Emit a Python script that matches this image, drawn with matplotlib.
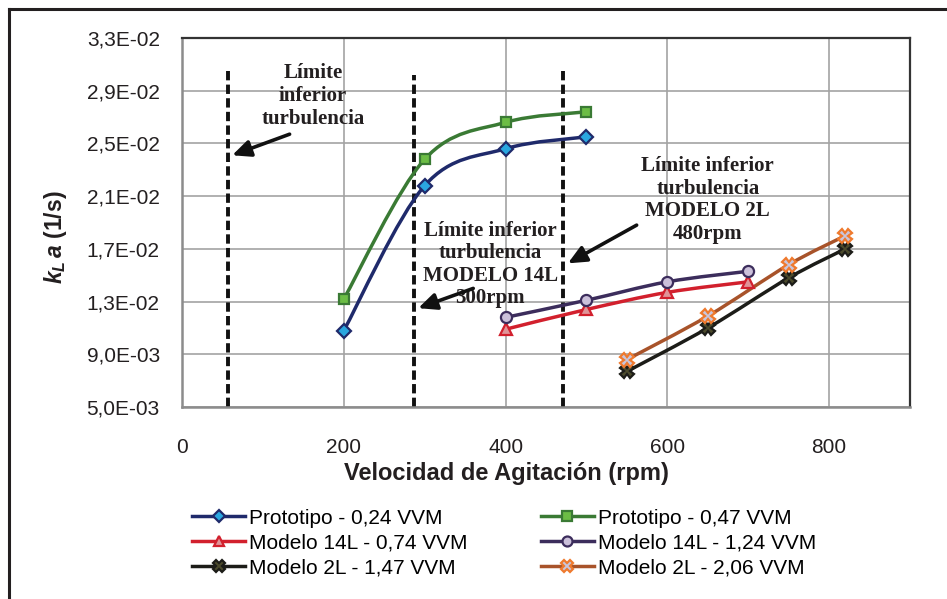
import matplotlib
matplotlib.use("Agg")
import matplotlib.pyplot as plt
import numpy as np
from matplotlib.path import Path
from matplotlib.patches import PathPatch
from matplotlib.lines import Line2D
from matplotlib.ticker import FuncFormatter

plt.rcParams['font.family'] = ['Liberation Sans', 'DejaVu Sans']
plt.rcParams['mathtext.fontset'] = 'custom'
plt.rcParams['mathtext.it'] = 'Liberation Sans:italic:bold'
plt.rcParams['mathtext.rm'] = 'Liberation Sans:bold'

# data
proto_x = [200, 300, 400, 500]
proto_024 = [0.0108, 0.0218, 0.0246, 0.0255]
proto_047 = [0.0132, 0.0238, 0.0266, 0.0274]

m14_x = [400, 500, 600, 700]
m14_074 = [0.0109, 0.0124, 0.0137, 0.0145]
m14_124 = [0.0118, 0.0131, 0.0145, 0.0153]

m2_x = [550, 650, 750, 820]
m2_147 = [0.0077, 0.0110, 0.0148, 0.0170]
m2_206 = [0.0086, 0.0119, 0.0158, 0.0180]

labels = ["Prototipo - 0,24 VVM", "Prototipo - 0,47 VVM",
          "Modelo 14L - 0,74 VVM", "Modelo 14L - 1,24 VVM",
          "Modelo 2L - 1,47 VVM", "Modelo 2L - 2,06 VVM"]

limit_x = [57, 287, 471]
limit_top = [0.0308, 0.0302, 0.0308]

y_ticks = [0.005, 0.009, 0.013, 0.017, 0.021, 0.025, 0.029, 0.033]
x_ticks = [0, 200, 400, 600, 800]

notes = ["Límite\ninferior\nturbulencia",
         "Límite inferior\nturbulencia\nMODELO 14L\n300rpm",
         "Límite inferior\nturbulencia\nMODELO 2L\n480rpm"]
note_xy = [(162, 0.0286), (381, 0.0158), (650, 0.0207)]
arrow_tail = [(133, 0.0257), (360, 0.0140), (562, 0.0188)]
arrow_head = [(62, 0.0241), (292, 0.0125), (477, 0.0159)]


def smooth_path(x, y):
    # Excel-like smoothed line: Catmull-Rom turned into cubic Bezier segments
    p = np.column_stack([x, y]).astype(float)
    pts = np.vstack([p[0], p, p[-1]])
    verts = [p[0]]
    codes = [Path.MOVETO]
    for i in range(1, len(pts) - 2):
        c1 = pts[i] + (pts[i + 1] - pts[i - 1]) / 6.0
        c2 = pts[i + 1] - (pts[i + 2] - pts[i]) / 6.0
        verts += [c1, c2, pts[i + 1]]
        codes += [Path.CURVE4] * 3
    return Path(verts, codes)


styles = [
    dict(color="#1f2a6b", marker="D", mfc="#2aa7e0", ms=7),
    dict(color="#3a7a34", marker="s", mfc="#6cbd45", ms=7.5),
    dict(color="#d2202d", marker="^", mfc="#e09498", ms=8.5),
    dict(color="#3c2d5c", marker="o", mfc="#cbc0da", ms=8),
    dict(color="#1c1c18", marker="X", mfc="#4b4a2c", ms=9.5),
    dict(color="#a8532a", marker="X", mfc="#c9c6dc", ms=10, mec="#ef7a2e"),
]
series = [(proto_x, proto_024), (proto_x, proto_047),
          (m14_x, m14_074), (m14_x, m14_124),
          (m2_x, m2_147), (m2_x, m2_206)]

fig = plt.figure(figsize=(9.47, 5.99), dpi=100)
ax = fig.add_axes([0.1922, 0.3205, 0.7688, 0.6161])

handles = []
for (xs, ys), st, lab in zip(series, styles, labels):
    mec = st.get("mec", st["color"])
    ax.add_patch(PathPatch(smooth_path(xs, ys), fill=False, edgecolor=st["color"],
                           lw=2.5, zorder=3, capstyle="round"))
    ax.plot(xs, ys, ls="none", marker=st["marker"], ms=st["ms"], mfc=st["mfc"],
            mec=mec, mew=1.6, zorder=4)
    handles.append(Line2D([], [], color=st["color"], lw=2.5, marker=st["marker"],
                          ms=st["ms"] * 0.9, mfc=st["mfc"], mec=mec, mew=1.6, label=lab))

ax.vlines(limit_x, 0.005, limit_top, colors="#111111", lw=2.8,
          linestyles=(0, (2.4, 1.1)), zorder=2)

for txt, xy in zip(notes, note_xy):
    ax.text(xy[0], xy[1], txt, ha="center", va="center", fontsize=15,
            fontweight="bold", family="Liberation Serif", color="#231f20",
            linespacing=1.17, zorder=5)
for t, h in zip(arrow_tail, arrow_head):
    ax.annotate("", xy=h, xytext=t,
                arrowprops=dict(arrowstyle="-|>,head_length=1.1,head_width=0.5",
                                color="#111111", lw=2.6, shrinkA=0, shrinkB=0),
                zorder=6)

ax.set_xlim(0, 900)
ax.set_ylim(0.005, 0.033)
ax.set_xticks(x_ticks)
ax.set_yticks(y_ticks)
ax.yaxis.set_major_formatter(FuncFormatter(lambda v, p: f"{v:.1E}".replace(".", ",")))
ax.tick_params(length=0, labelsize=15, colors="#231f20")
ax.tick_params(axis="y", pad=16)
ax.tick_params(axis="x", pad=22)
ax.grid(True, color="#a3a3a3", lw=1.2, zorder=0)
ax.set_axisbelow(True)
for side in ["left", "bottom"]:
    ax.spines[side].set_color("#8c8c8c")
    ax.spines[side].set_linewidth(1.8)
for side in ["top", "right"]:
    ax.spines[side].set_color("#333333")
    ax.spines[side].set_linewidth(1.6)

ax.set_xlabel("Velocidad de Agitación (rpm)", fontsize=17, fontweight="bold",
              color="#231f20")
ax.xaxis.set_label_coords(0.446, -0.15)
ax.set_ylabel(r"$k_L\,a$ (1/s)", fontsize=16.5, fontweight="bold", color="#231f20")
ax.yaxis.set_label_coords(-0.155, 0.46)

fig.legend(handles=handles[0::2] + handles[1::2], ncol=2, loc="upper left",
           bbox_to_anchor=(0.2027, 0.151), frameon=False, handlelength=2.55,
           handletextpad=0.2, columnspacing=3.5, labelspacing=0.29,
           borderpad=0, borderaxespad=0,
           prop=dict(family="Liberation Sans", size=15))

# outer frame of the original figure
fig.add_artist(Line2D([0.0095, 0.0095], [0, 0.985], color="#231f20", lw=2.2,
                      transform=fig.transFigure))
fig.add_artist(Line2D([0.0095, 1.0], [0.985, 0.985], color="#231f20", lw=2.2,
                      transform=fig.transFigure))

fig.savefig("out.png", dpi=100)
